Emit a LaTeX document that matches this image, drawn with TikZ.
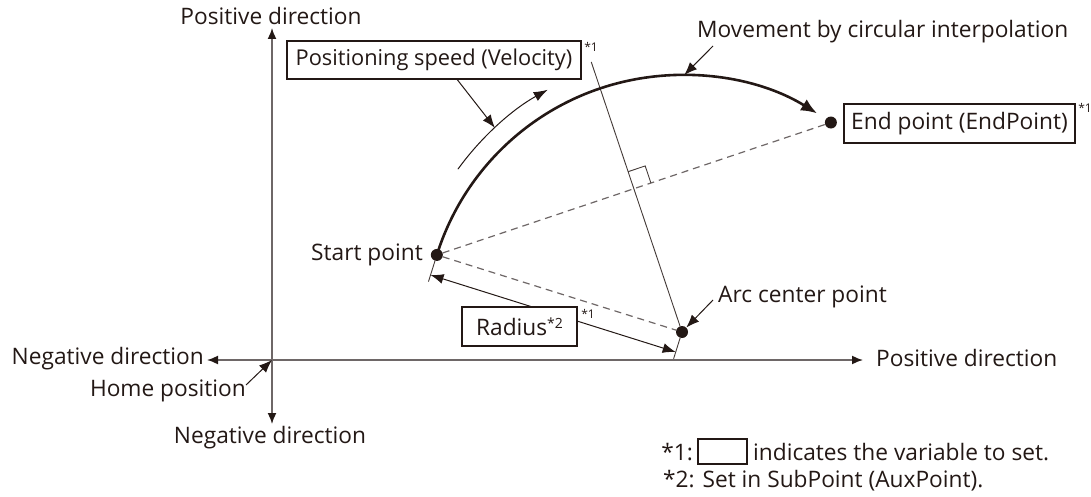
\documentclass[tikz,border=0pt]{standalone}
\usepackage{fontspec}
\setmainfont{Open Sans}
\usetikzlibrary{arrows.meta,calc}
\definecolor{ink}{HTML}{231815}
\definecolor{axisgray}{HTML}{6E6767}
\definecolor{dashgray}{HTML}{6E6767}
\begin{document}
\begin{tikzpicture}[x=1pt,y=-1pt,
  font=\fontsize{22.7}{26}\selectfont,
  lbl/.style={inner sep=0pt, text=ink},
  varbox/.style={draw=ink, line width=1.4pt, fill=white, inner sep=0pt, text=ink},
  dot/.style={circle, fill=ink, inner sep=0pt, minimum size=12pt},
  note/.style={font=\fontsize{12}{13}\selectfont, inner sep=0pt, text=ink},
  axisline/.style={draw=axisgray, line width=1.6pt, {Latex[length=11pt,width=9pt,color=ink]}-{Latex[length=11pt,width=9pt,color=ink]}},
  lead/.style={draw=ink, line width=1pt, -{Latex[length=13pt,width=10pt]}},
  thinline/.style={draw=ink!85, line width=0.9pt},
  dashline/.style={draw=dashgray, line width=1.2pt, dash pattern=on 7pt off 5pt},
  mainarc/.style={draw=ink, line width=2.6pt, -{Latex[length=16pt,width=13pt]}},
  dimline/.style={draw=ink, line width=1pt, {Latex[length=13pt,width=10pt]}-{Latex[length=13pt,width=10pt]}}
]
\useasboundingbox (0,0) rectangle (1091,497);

% axes
\coordinate (O) at (272,360);
\coordinate (axT) at (272,28);
\coordinate (axB) at (272,424);
\coordinate (axL) at (207,360);
\coordinate (axR) at (863,360);
\node[lbl] (tPY) at (271,16) {Positive direction};
\node[lbl, anchor=east] (tNX) at (204,359) {Negative direction};
\node[lbl] (tNY) at (270,438) {Negative direction};
\node[lbl, anchor=west] (tPX) at (876,358) {Positive direction};
\node[lbl, anchor=east] (tHome) at (246,391) {Home position};
\draw[axisline] (axL) -- (axR);
\draw[axisline] (axB) -- (axT);
\coordinate (hmL) at (246,385);
\draw[lead] (hmL) -- (O);

% circle geometry
\coordinate (C0) at (682,332);
\node[dot] (C) at (C0) {};
\node[dot] (S) at ($(C0)+(-162.55:257)$) {};
\node[dot] (E) at ($(C0)+(-54.6:257)$) {};

% dashed chords
\draw[dashline] (S) -- (E);
\draw[dashline] (S) -- (C);

% perpendicular bisector
\coordinate (I) at ($(S.center)!0.5!(E.center)$);
\coordinate (P1) at ($(C.center)!1.885!(I)$);
\draw[thinline] (P1) -- (C);
\coordinate (rA) at ($(I)!18pt!(P1)$);
\coordinate (rB) at ($(I)!18pt!(E.center)$);
\draw[thinline] (rA) -- ($(rA)+(rB)-(I)$) -- (rB);

% main arc
\draw[mainarc] (S.center) arc[start angle=-162.55, end angle=-58.3, radius=257];

% velocity arc
\coordinate (V0) at ($(C0)+(-144:277)$);
\coordinate (VL) at ($(C0)+(-132.5:277)$);
\draw[draw=ink, line width=1pt, -{Latex[length=14pt,width=10pt]}] (V0) arc[start angle=-144, end angle=-119, radius=277];
\node[varbox, minimum width=294pt, minimum height=38pt, font=\fontsize{21.8}{25}\selectfont] (vel) at (434,60) {Positioning speed (Velocity)};
\node[note] (velN) at (591,47) {*1};
\draw[lead] ([xshift=171pt]vel.south west) -- (VL);

% movement label
\node[lbl, anchor=west] (mov) at (697,32) {Movement by circular interpolation};
\coordinate (movL) at (713,46);
\coordinate (M) at ($(C0)+(-89.5:257)$);
\draw[lead] (movL) -- (M);

% end point
\node[varbox, minimum width=231pt, minimum height=39pt] (ebox) at (959.5,123.5) {End point (EndPoint)};
\node[note] (eN) at (1085,108) {*1};

% start point
\node[lbl, anchor=east] (tS) at (423,255) {Start point};

% arc center
\node[lbl, anchor=west] (tC) at (718,297) {Arc center point};
\coordinate (acL) at (713,300);
\draw[lead] (acL) -- (C);

% radius dimension
\coordinate (xS) at ($(S.center)!28pt!-90:(C.center)$);
\coordinate (xC) at ($(C.center)!28pt!90:(S.center)$);
\coordinate (dS) at ($(S.center)!21pt!-90:(C.center)$);
\coordinate (dC) at ($(C.center)!21pt!90:(S.center)$);
\draw[thinline] (S) -- (xS);
\draw[thinline] (C) -- (xC);
\draw[dimline] (dS) -- (dC);
\node[varbox, minimum width=115pt, minimum height=39pt] (rbox) at (519.5,326.5) {Radius{\fontsize{14}{14}\selectfont\raisebox{7pt}{*2}}};
\node[note] (rN) at (588,314) {*1};

% footnotes
\node[lbl, anchor=east] (fn1) at (693,452) {*1:};
\node[varbox, minimum width=49pt, minimum height=25pt] (fbox) at (722.5,451.5) {};
\node[lbl, anchor=west] (fn1t) at (753,452) {indicates the variable to set.};
\node[lbl, anchor=west] (fn2) at (663,481) {*2: Set in SubPoint (AuxPoint).};
\end{tikzpicture}
\end{document}
